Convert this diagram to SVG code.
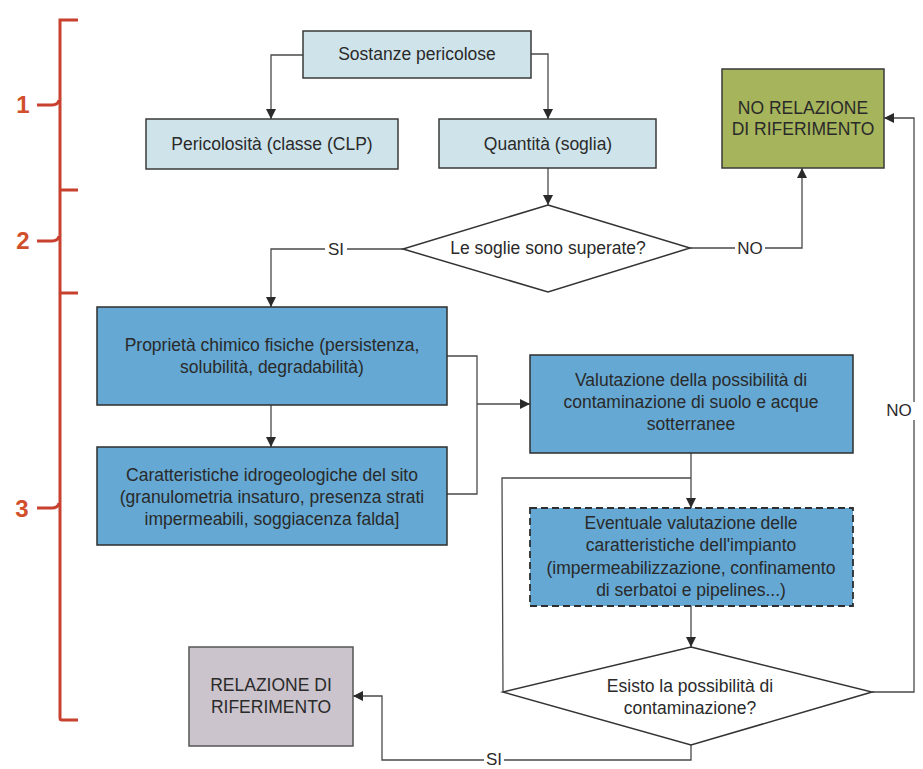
<svg xmlns="http://www.w3.org/2000/svg" width="923" height="769" viewBox="0 0 923 769">
<defs>
<marker id="ah" viewBox="0 0 10 10" refX="10" refY="5" markerWidth="10" markerHeight="10" markerUnits="userSpaceOnUse" orient="auto">
<path d="M0,0 L10,5 L0,10 z" fill="#2a2a2a"/>
</marker>
<style>
.t{font-family:"Liberation Sans",Arial,sans-serif;font-size:17.5px;fill:#2a2a2a;text-anchor:middle}
.lb{fill:#cfe4ea;stroke:#3a3a3a;stroke-width:1.5}
.mb{fill:#64a8d3;stroke:#2e2e2e;stroke-width:1.5}
.c{fill:none;stroke:#4a4a4a;stroke-width:1.3}
.br{fill:none;stroke:#c8402e;stroke-width:3}
.num{font-family:"Liberation Sans",Arial,sans-serif;font-size:24px;font-weight:bold;fill:#d24f2c;text-anchor:middle}
.lab{font-family:"Liberation Sans",Arial,sans-serif;font-size:17px;fill:#2a2a2a;text-anchor:middle}
</style>
</defs>
<rect width="923" height="769" fill="#ffffff"/>
<g id="bracket">
<path class="br" d="M78,20 L60,20 L60,718 Q60,720 62,720 L78,720"/>
<path class="br" d="M60,190 L78,190 M60,293 L78,293"/>
<path class="br" d="M37,105 L52,105 Q58,105 59,100 M37,241 L52,241 Q58,241 59,236 M37,508 L52,508 Q58,508 59,503"/>
<text class="num" x="23" y="113">1</text>
<text class="num" x="23" y="249">2</text>
<text class="num" x="22" y="517">3</text>
</g>
<g id="connectors">
<path class="c" d="M303,55 L271,55 L271,119" marker-end="url(#ah)"/>
<path class="c" d="M531,54 L548,54 L548,119" marker-end="url(#ah)"/>
<path class="c" d="M548,168 L548,205" marker-end="url(#ah)"/>
<path class="c" d="M403,249 L271,249 L271,307" marker-end="url(#ah)"/>
<path class="c" d="M690,248 L802,248 L802,168" marker-end="url(#ah)"/>
<path class="c" d="M271,405 L271,447" marker-end="url(#ah)"/>
<path class="c" d="M447,356 L477,356 L477,494 L447,494"/>
<path class="c" d="M477,404 L530,404" marker-end="url(#ah)"/>
<path class="c" d="M691,453 L691,508" marker-end="url(#ah)"/>
<path class="c" d="M503,692 L502,478 L691,478"/>
<path class="c" d="M691,606 L691,647" marker-end="url(#ah)"/>
<path class="c" d="M872,692 L914,692 L914,118 L884,118" marker-end="url(#ah)"/>
<path class="c" d="M691,745 L691,760 L382,760 L382,696 L353,696" marker-end="url(#ah)"/>
<rect x="325" y="239" width="22" height="20" fill="#ffffff"/>
<text class="lab" x="336" y="255">SI</text>
<rect x="735" y="238" width="30" height="20" fill="#ffffff"/>
<text class="lab" x="750" y="254">NO</text>
<rect x="898" y="402" width="25" height="18" fill="#ffffff"/>
<text class="lab" x="899" y="416" font-size="16" text-anchor="start">NO</text>
<rect x="484" y="752" width="20" height="15" fill="#ffffff"/>
<text class="lab" x="494" y="765" font-size="15">SI</text>
</g>
<g id="sostanze">
<rect class="lb" x="303" y="31" width="228" height="47"/>
<text class="t" x="417" y="60">Sostanze pericolose</text>
</g>
<g id="pericolosita">
<rect class="lb" x="146" y="119" width="252" height="50"/>
<text class="t" x="272" y="150">Pericolosità (classe (CLP)</text>
</g>
<g id="quantita">
<rect class="lb" x="439" y="119" width="217" height="49"/>
<text class="t" x="548" y="150">Quantità (soglia)</text>
</g>
<g id="no-relazione">
<rect x="722" y="69" width="162" height="99" fill="#a6b55b" stroke="#3a3a3a" stroke-width="1.5"/>
<text class="t" x="803" y="114">NO RELAZIONE</text>
<text class="t" x="803" y="135">DI RIFERIMENTO</text>
</g>
<g id="soglie">
<path d="M548,205 L690,248 L548,292 L403,249 z" fill="#ffffff" stroke="#333" stroke-width="1.5"/>
<text class="t" x="548" y="254">Le soglie sono superate?</text>
</g>
<g id="proprieta">
<rect class="mb" x="97" y="307" width="350" height="98"/>
<text class="t" x="272" y="351">Proprietà chimico fisiche (persistenza,</text>
<text class="t" x="272" y="373">solubilità, degradabilità)</text>
</g>
<g id="caratteristiche">
<rect class="mb" x="97" y="447" width="350" height="98"/>
<text class="t" x="272" y="481">Caratteristiche idrogeologiche del sito</text>
<text class="t" x="272" y="503">(granulometria insaturo, presenza strati</text>
<text class="t" x="272" y="525">impermeabili, soggiacenza falda]</text>
</g>
<g id="valutazione">
<rect class="mb" x="530" y="355" width="323" height="98"/>
<text class="t" x="691" y="386">Valutazione della possibilità di</text>
<text class="t" x="691" y="408">contaminazione di suolo e acque</text>
<text class="t" x="691" y="430">sotterranee</text>
</g>
<g id="eventuale">
<rect x="530" y="508" width="323" height="98" fill="#64a8d3" stroke="#2e2e2e" stroke-width="1.8" stroke-dasharray="7,4"/>
<text class="t" x="691" y="529">Eventuale valutazione delle</text>
<text class="t" x="691" y="551">caratteristiche dell'impianto</text>
<text class="t" x="691" y="574">(impermeabilizzazione, confinamento</text>
<text class="t" x="691" y="596">di serbatoi e pipelines...)</text>
</g>
<g id="esiste">
<path d="M691,647 L872,692 L691,745 L503,692 z" fill="#ffffff" stroke="#333" stroke-width="1.5"/>
<text class="t" x="690" y="692">Esisto la possibilità di</text>
<text class="t" x="690" y="714">contaminazione?</text>
</g>
<g id="relazione">
<rect x="189" y="647" width="164" height="99" fill="#ccc4cc" stroke="#555" stroke-width="1.5"/>
<text class="t" x="271" y="691">RELAZIONE DI</text>
<text class="t" x="271" y="713">RIFERIMENTO</text>
</g>
</svg>
